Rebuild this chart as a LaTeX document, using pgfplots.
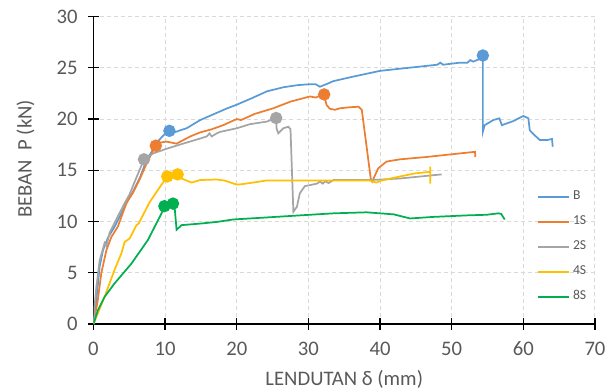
\documentclass[border=0pt]{standalone}
\usepackage{pgfplots}
\pgfplotsset{compat=1.18}
\usepackage{fontspec}
\setmainfont{Carlito}
\definecolor{cB}{HTML}{5B9BD5}
\definecolor{c1}{HTML}{ED7D31}
\definecolor{c2}{HTML}{A5A5A5}
\definecolor{c4}{HTML}{FFC000}
\definecolor{c8}{HTML}{00B050}
\definecolor{txt}{HTML}{595959}
\definecolor{grd}{HTML}{D9D9D9}
\begin{document}
\begin{tikzpicture}
\begin{axis}[
  set layers,
  scale only axis, width=376.1pt, height=230.6pt,
  xmin=0, xmax=70, ymin=0, ymax=30,
  xtick={0,10,...,70}, ytick={0,5,...,30},
  axis x line=bottom, axis y line=left,
  axis line style={-, black, line width=1pt},
  tick style={black, line width=1pt},
  major tick length=8.5pt, tick align=center,
  grid=major,
  major grid style={dashed, dash pattern=on 3pt off 2.25pt, grd, line width=0.75pt},
  /pgf/number format/assume math mode=true,
  tick label style={font=\fontsize{15.5}{18}\selectfont, text=txt},
  xticklabel style={inner sep=0pt, anchor=north, yshift=-9pt},
  yticklabel style={inner sep=0pt, anchor=east, xshift=-7.5pt},
  label style={font=\fontsize{15.5}{18}\selectfont, text=txt},
  xlabel={LENDUTAN δ (mm)},
  ylabel={BEBAN\ \ P (kN)},
  xlabel style={at={(axis description cs:0.5,-0.1984)}, anchor=base},
  ylabel style={at={(axis description cs:-0.1232,0.538)}, anchor=base},
  legend style={draw=none, fill=none, at={(axis cs:61.35,13.3)}, anchor=north west,
    font=\fontsize{10.25}{12}\selectfont, text=txt, row sep=9.75pt,
    nodes={inner sep=0pt, inner xsep=2.5pt, text height=7pt, text depth=2pt}},
  legend cell align=left,
  legend image code/.code={\draw[#1, line width=1.3pt] (0pt,0pt) -- (23pt,0pt);},
  every axis plot/.append style={line width=1.3pt},
]
\addplot[cB] coordinates {(0,0) (0.4,2.3) (0.86,5.6) (1.33,7.2) (2.0,8.4) (2.95,9.5) (3.9,10.8) (4.8,12.1) (5.5,12.9) (6.5,14.3) (7.4,16.0) (8.3,17.0) (9.1,17.9) (9.75,18.4) (10.6,18.85) (11.3,18.7) (12.1,18.9) (13.0,19.1) (14.9,19.9) (17.2,20.6) (18.5,21.0) (20.0,21.4) (22.0,22.0) (24.2,22.7) (26.5,23.1) (28.4,23.3) (30.2,23.4) (31.0,23.4) (31.6,23.15) (32.5,23.4) (33.5,23.7) (36,24.1) (40,24.7) (44,25.0) (48.0,25.3) (48.4,25.5) (48.8,25.3) (51.15,25.5) (52.2,25.5) (52.6,25.75) (53.0,25.6) (53.7,25.8) (54.35,26.2) (54.35,18.76) (54.6,19.4) (55.8,19.9) (56.65,20.07) (57.0,19.4) (58.6,19.8) (60.0,20.3) (60.7,20.07) (60.9,18.9) (61.6,18.4) (62.3,17.95) (63.3,17.95) (64.0,18.05) (64.1,17.3)};
\addlegendentry{B}
\addplot[c1] coordinates {(0,0) (0.6,2.3) (1.1,5.0) (1.8,7.2) (2.5,8.5) (3.4,9.5) (4.6,11.8) (5.5,12.8) (6.5,14.2) (7.5,15.8) (8.7,17.4) (9.3,17.7) (10.2,17.8) (11.6,17.6) (13.5,18.3) (14.9,18.7) (16.5,19.0) (18.1,19.4) (20.0,20.0) (20.6,19.9) (22.5,20.5) (25.1,21.05) (27.5,21.7) (30.2,22.2) (31.0,22.1) (32.2,22.4) (32.3,22.0) (32.55,21.35) (33.0,21.0) (33.7,20.9) (34.4,21.05) (35.8,21.15) (37.0,21.2) (37.45,20.9) (38.7,14.2) (38.9,13.9) (39.75,15.2) (40.9,15.85) (42.8,16.07) (46.5,16.3) (51.2,16.65) (53.25,16.8) (53.3,16.3)};
\addlegendentry{1S}
\addplot[c2] coordinates {(0,0) (0.15,0.5) (0.15,1.7) (0.4,3.6) (0.86,6.2) (1.55,7.9) (1.8,7.6) (2.25,8.9) (3.4,10.5) (4.35,11.8) (5.0,12.6) (6.0,14.3) (7.05,16.07) (8.35,16.65) (10.2,17.1) (12.5,17.6) (14.9,18.1) (15.8,18.3) (16.2,18.6) (16.5,18.3) (17.2,18.6) (17.7,18.75) (20.0,19.1) (21.85,19.5) (24.2,19.75) (25.5,20.1) (25.55,19.1) (25.8,18.6) (26.5,19.1) (27.2,19.25) (27.5,19.0) (27.9,10.95) (28.4,11.45) (28.8,12.75) (29.5,13.45) (31.2,13.7) (31.6,13.9) (32.0,13.7) (32.4,13.95) (32.8,13.75) (33.5,14.05) (38.8,14.05) (42.8,14.2) (48.6,14.6)};
\addlegendentry{2S}
\addplot[c4] coordinates {(0,0) (1.55,2.65) (2.95,5.3) (3.9,6.9) (4.35,8.0) (5.05,8.35) (6.0,9.65) (6.3,9.8) (7.85,11.9) (9.3,13.4) (10.3,14.4) (11.75,14.6) (12.3,14.2) (13.7,13.8) (14.9,14.05) (17.2,14.1) (18.3,14.0) (20.0,13.6) (20.8,13.65) (23.2,13.9) (24.1,14.0) (38.5,14.0) (39.5,13.8) (40.2,14.0) (42.8,14.4) (44.9,14.7) (47.0,14.85) (47.0,15.35) (47.0,13.7)};
\addlegendentry{4S}
\addplot[c8] coordinates {(0,0) (0.63,1.37) (1.55,2.65) (2.95,3.97) (5.3,5.9) (7.6,8.2) (9.5,10.8) (9.9,11.5) (11.1,11.75) (11.3,11.6) (11.6,9.2) (12.3,9.65) (14.9,9.8) (17.2,9.96) (19.5,10.2) (24.2,10.4) (28.8,10.6) (33.5,10.8) (38.1,10.9) (41.9,10.7) (44.2,10.3) (47.4,10.45) (52.1,10.6) (54.9,10.66) (56.5,10.8) (56.9,10.75) (57.4,10.2)};
\addlegendentry{8S}
\addplot[only marks, mark=*, mark size=4pt, cB, forget plot] coordinates {(10.6,18.85) (54.35,26.2)};
\addplot[only marks, mark=*, mark size=4pt, c1, forget plot] coordinates {(8.7,17.4) (32.2,22.4)};
\addplot[only marks, mark=*, mark size=4pt, c2, forget plot] coordinates {(7.05,16.07) (25.5,20.1)};
\addplot[only marks, mark=*, mark size=4pt, c4, forget plot] coordinates {(10.3,14.4) (11.75,14.6)};
\addplot[only marks, mark=*, mark size=4pt, c8, forget plot] coordinates {(9.9,11.5) (11.1,11.75)};
\end{axis}
\pgfresetboundingbox
\path[use as bounding box] (-70.1pt,-48.75pt) rectangle (388.1pt,243pt);
\end{tikzpicture}
\end{document}
